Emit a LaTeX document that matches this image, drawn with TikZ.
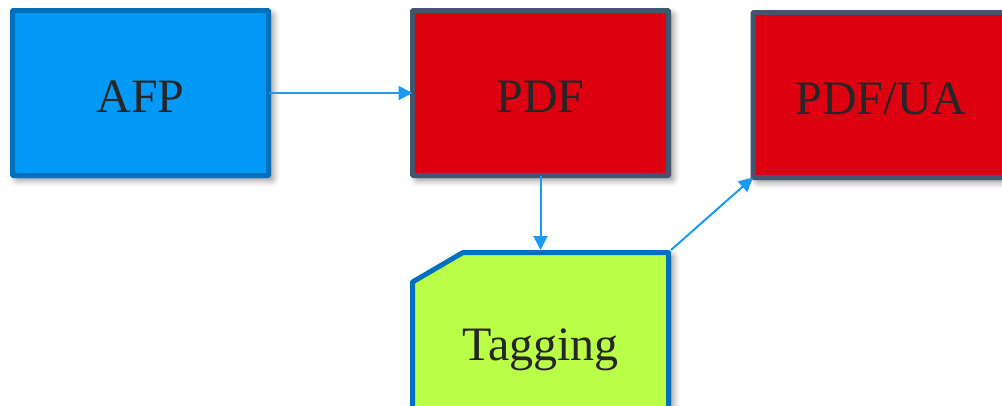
\documentclass[tikz,border=0pt]{standalone}
\usepackage{fontspec}
\setmainfont{Liberation Serif}
\usetikzlibrary{arrows.meta,shadows.blur}
\definecolor{afpfill}{HTML}{0399F6}
\definecolor{blueline}{HTML}{0070BA}
\definecolor{pdffill}{HTML}{DC0010}
\definecolor{slateline}{HTML}{41566E}
\definecolor{tagfill}{HTML}{B9FF48}
\definecolor{arrowcol}{HTML}{1A9BF0}
\definecolor{txtcol}{HTML}{262626}
\tikzset{
  shad/.style={blur shadow={shadow xshift=4pt, shadow yshift=-4pt, shadow blur radius=7pt, shadow opacity=50}},
  box/.style={rectangle, minimum width=256pt, minimum height=165pt, line width=5pt, inner sep=0pt, outer sep=0pt,
    text=txtcol, font=\fontsize{48}{58}\selectfont, text height=38pt, text depth=0pt, rounded corners=1pt, shad},
  afpbox/.style={box, draw=blueline, fill=afpfill},
  pdfbox/.style={box, draw=slateline, fill=pdffill},
  tagshape/.style={draw=blueline, fill=tagfill, line width=5pt, line join=round, shad},
  conn/.style={draw=arrowcol, line width=2pt, -{Triangle[length=14pt,width=14pt]}},
}
\begin{document}
\begin{tikzpicture}[x=1pt,y=-1pt]
\useasboundingbox (0,0) rectangle (1002,405);
\clip (0,0) rectangle (1002,405);
\node[afpbox] (afp) at (140.5,93) {AFP};
\node[pdfbox] (pdf) at (540.5,93) {PDF};
\node[pdfbox] (pdfua) at (881,95) {PDF/UA};
% Tagging: chamfered box
\coordinate (t1) at (412.5,282);
\coordinate (t2) at (463,252.5);
\coordinate (t3) at (668.5,252.5);
\coordinate (t4) at (668.5,418);
\coordinate (t5) at (412.5,418);
\path[tagshape] (t1) -- (t2) -- (t3) -- (t4) -- (t5) -- cycle;
\node[rectangle, minimum width=256pt, minimum height=165.5pt, inner sep=0pt, outer sep=2.5pt] (tag) at (540.5,335.25) {};
\node[text=txtcol, font=\fontsize{48}{58}\selectfont, anchor=base, inner sep=0pt] (taglabel) at (540.5,360) {Tagging};
\draw[conn] (afp.east) -- (pdf.west);
\draw[conn] (pdf.south) -- (tag.north);
\draw[conn] (tag.north east) -- (pdfua.south west);
\end{tikzpicture}
\end{document}
